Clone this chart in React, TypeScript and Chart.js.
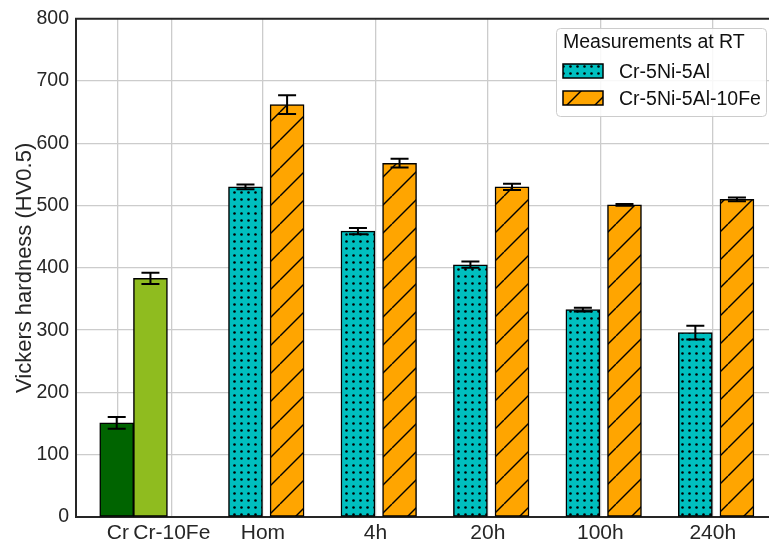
import { useEffect, useRef } from "react";
import { Chart, registerables } from "chart.js";

Chart.register(...registerables);

// Tick labels along the x axis and where they sit (Hom = 1, 4h = 2, ...)
const tickLabels = ["Cr", "Cr-10Fe", "Hom", "4h", "20h", "100h", "240h"];
const tickPositions = [-0.29, 0.19, 1, 2, 3, 4, 5];

// Reference materials
const pureLabels = ["Cr", "Cr-10Fe"];
const purePositions = [-0.3, 0];
const pureValues = [151, 383];
const pureErrors = [9.5, 9];

// Heat-treatment states
const stateLabels = ["Hom", "4h", "20h", "100h", "240h"];
const statePositions = [1, 2, 3, 4, 5];

const alloyLabel = "Cr-5Ni-5Al";
const alloyValues = [530, 459, 405, 333, 296];
const alloyErrors = [4, 5, 5, 3, 11];

const feAlloyLabel = "Cr-5Ni-5Al-10Fe";
const feAlloyValues = [662, 568, 530, 501, 510];
const feAlloyErrors = [15, 7, 5, 1.5, 3];

const yTicks = [0, 100, 200, 300, 400, 500, 600, 700, 800];

const FONT = "'Liberation Sans', Arial, sans-serif";
const TEXT = "#262626";
const GRID = "#cccccc";

function dotPattern(bg: string): CanvasPattern | string {
  const s = 7;
  const c = document.createElement("canvas");
  c.width = s;
  c.height = s;
  const g = c.getContext("2d");
  if (!g) return bg;
  g.fillStyle = bg;
  g.fillRect(0, 0, s, s);
  g.fillStyle = "#000";
  g.beginPath();
  g.arc(3.5, 3.5, 1.3, 0, Math.PI * 2);
  g.fill();
  return g.createPattern(c, "repeat") || bg;
}

function hatchPattern(bg: string): CanvasPattern | string {
  const s = 28;
  const c = document.createElement("canvas");
  c.width = s;
  c.height = s;
  const g = c.getContext("2d");
  if (!g) return bg;
  g.fillStyle = bg;
  g.fillRect(0, 0, s, s);
  g.strokeStyle = "#000";
  g.lineWidth = 1.4;
  for (const k of [-1, 0, 1]) {
    g.beginPath();
    g.moveTo(k * s, s);
    g.lineTo(k * s + s, 0);
    g.stroke();
  }
  return g.createPattern(c, "repeat") || bg;
}

// Error bars from each dataset's "errors" array
const errorBarPlugin = {
  id: "errorBars",
  afterDatasetsDraw(chart: any) {
    const ctx = chart.ctx;
    const yScale = chart.scales.y;
    ctx.save();
    ctx.strokeStyle = "#000";
    ctx.lineWidth = 2;
    chart.data.datasets.forEach((ds: any, di: number) => {
      const meta = chart.getDatasetMeta(di);
      const errs: number[] = ds.errors || [];
      meta.data.forEach((bar: any, i: number) => {
        const v = ds.data[i].y;
        const e = errs[i] || 0;
        const x = bar.x;
        const yTop = yScale.getPixelForValue(v + e);
        const yBot = yScale.getPixelForValue(v - e);
        const cap = 9;
        ctx.beginPath();
        ctx.moveTo(x, yTop);
        ctx.lineTo(x, yBot);
        ctx.moveTo(x - cap, yTop);
        ctx.lineTo(x + cap, yTop);
        ctx.moveTo(x - cap, yBot);
        ctx.lineTo(x + cap, yBot);
        ctx.stroke();
      });
    });
    ctx.restore();
  },
};

// Top spine and the framed legend
const framePlugin = {
  id: "frameAndLegend",
  afterDraw(chart: any) {
    const ctx = chart.ctx;
    const area = chart.chartArea;
    ctx.save();
    ctx.strokeStyle = TEXT;
    ctx.lineWidth = 2;
    ctx.beginPath();
    ctx.moveTo(area.left - 1, area.top);
    ctx.lineTo(area.right, area.top);
    ctx.stroke();

    // legend box
    const bx = 556;
    const by = 28;
    const bw = 210;
    const bh = 88;
    ctx.fillStyle = "rgba(255,255,255,0.85)";
    ctx.strokeStyle = GRID;
    ctx.lineWidth = 1;
    ctx.beginPath();
    ctx.roundRect(bx + 0.5, by + 0.5, bw, bh, 4);
    ctx.fill();
    ctx.stroke();

    ctx.fillStyle = "#111";
    ctx.font = `19.5px ${FONT}`;
    ctx.textBaseline = "alphabetic";
    ctx.textAlign = "left";
    ctx.fillText("Measurements at RT", 563, 48);

    const entries = chart.data.datasets.filter((d: any) => d.inLegend);
    entries.forEach((d: any, i: number) => {
      const py = 64 + i * 27;
      ctx.fillStyle = d.backgroundColor;
      ctx.fillRect(563, py, 40, 14);
      ctx.strokeStyle = "#000";
      ctx.lineWidth = 1.5;
      ctx.strokeRect(563, py, 40, 14);
      ctx.fillStyle = "#111";
      ctx.fillText(d.label, 619, py + 14);
    });
    ctx.restore();
  },
};

export default function App() {
  const ref = useRef<HTMLCanvasElement | null>(null);

  useEffect(() => {
    const canvas = ref.current;
    if (!canvas) return;

    const alloyOffset = -0.155;
    const feOffset = 0.215;

    const chart = new Chart(canvas, {
      type: "bar",
      data: {
        datasets: [
          {
            label: pureLabels[0],
            data: [{ x: purePositions[0], y: pureValues[0] }],
            backgroundColor: "#006400",
            errors: [pureErrors[0]],
          } as any,
          {
            label: pureLabels[1],
            data: [{ x: purePositions[1], y: pureValues[1] }],
            backgroundColor: "#8FBC1F",
            errors: [pureErrors[1]],
          } as any,
          {
            label: alloyLabel,
            data: statePositions.map((p, i) => ({ x: p + alloyOffset, y: alloyValues[i] })),
            backgroundColor: dotPattern("#00BFBF"),
            errors: alloyErrors,
            inLegend: true,
          } as any,
          {
            label: feAlloyLabel,
            data: statePositions.map((p, i) => ({ x: p + feOffset, y: feAlloyValues[i] })),
            backgroundColor: hatchPattern("#FFA500"),
            errors: feAlloyErrors,
            inLegend: true,
          } as any,
        ],
      },
      options: {
        animation: false,
        responsive: false,
        maintainAspectRatio: false,
        layout: { padding: { top: 16, right: 0, left: 0, bottom: 0 } },
        datasets: {
          bar: {
            barThickness: 34,
            grouped: false,
            borderColor: "#000",
            borderWidth: 1.5,
            borderSkipped: false,
          },
        },
        plugins: {
          legend: { display: false },
          tooltip: { enabled: false },
        },
        scales: {
          x: {
            type: "linear",
            offset: false,
            min: -0.662,
            max: 5.5,
            afterBuildTicks: (s: any) => {
              s.ticks = tickPositions.map((v) => ({ value: v }));
            },
            afterFit: (s: any) => {
              s.height = 26;
            },
            ticks: {
              autoSkip: false,
              maxRotation: 0,
              padding: 4,
              color: TEXT,
              font: { family: FONT, size: 21 },
              callback: (_v: any, i: number) => tickLabels[i],
            },
            grid: { color: GRID, lineWidth: 1.3, drawTicks: false, offset: false },
            border: { display: true, color: TEXT, width: 2 },
          },
          y: {
            min: 0,
            max: 800,
            afterBuildTicks: (s: any) => {
              s.ticks = yTicks.map((v) => ({ value: v }));
            },
            afterFit: (s: any) => {
              s.width = 76;
            },
            ticks: {
              padding: 7,
              color: TEXT,
              font: { family: FONT, size: 19.5 },
            },
            grid: { color: GRID, lineWidth: 1.3, drawTicks: false },
            border: { display: true, color: TEXT, width: 2 },
            title: {
              display: true,
              text: "Vickers hardness (HV0.5)",
              color: TEXT,
              font: { family: FONT, size: 22 },
              padding: { top: 12, bottom: 0 },
            },
          },
        },
      } as any,
      plugins: [errorBarPlugin, framePlugin],
    });

    return () => chart.destroy();
  }, []);

  return (
    <div style={{ position: "absolute", left: 0, top: 0, width: 769, height: 543, background: "#fff" }}>
      <canvas ref={ref} width={769} height={543} style={{ display: "block", width: 769, height: 543 }} />
    </div>
  );
}
